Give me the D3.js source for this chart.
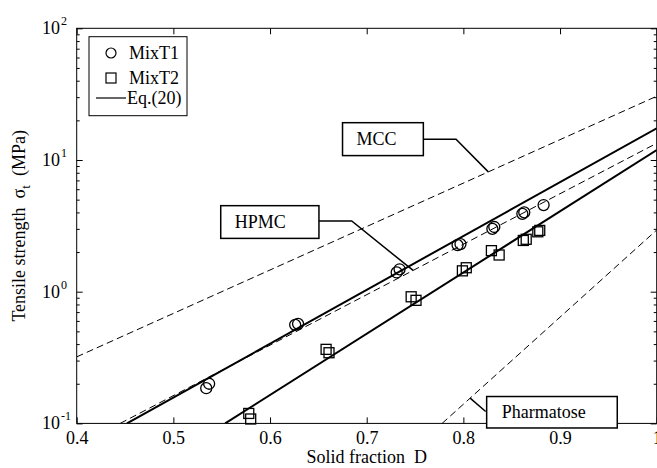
<!DOCTYPE html>
<html>
<head>
<meta charset="utf-8">
<script src="https://cdn.jsdelivr.net/npm/d3@7"></script>
<style>
  html, body { margin: 0; padding: 0; background: #fff; }
  svg { display: block; }
  svg text { font-family: "Liberation Serif", "Times New Roman", serif; }
</style>
</head>
<body>
<svg id="chart" width="657" height="468" font-family="Liberation Serif, Times New Roman, serif"></svg>
<script>
// Measured tensile strength (MPa) against solid fraction for the two mixtures
const mixT1D     = [0.534, 0.537, 0.626, 0.629, 0.731, 0.734, 0.794, 0.797, 0.830, 0.832, 0.861, 0.863, 0.883];
const mixT1Sigma = [0.185, 0.200, 0.560, 0.570, 1.40, 1.48, 2.26, 2.30, 3.00, 3.10, 3.90, 4.00, 4.55];

const mixT2D     = [0.578, 0.580, 0.658, 0.661, 0.746, 0.751, 0.799, 0.803, 0.829, 0.837, 0.862, 0.865, 0.877, 0.879];
const mixT2Sigma = [0.119, 0.108, 0.365, 0.344, 0.915, 0.860, 1.44, 1.52, 2.05, 1.90, 2.45, 2.50, 2.85, 2.92];

// Eq.(20) predictions for the mixtures (straight on the log scale): [D, sigma] end points
const eq20T1 = [[0.452, 0.1], [1.0, 17.4]];
const eq20T2 = [[0.5536, 0.1], [1.0, 11.9]];

// Single-component curves (dashed)
const componentNames = ["MCC", "HPMC", "Pharmatose"];
const mccCurve        = [[0.4, 0.32], [1.0, 30.5]];
const hpmcCurve       = [[0.445, 0.1], [1.0, 13.4]];
const pharmatoseCurve = [[0.778, 0.1], [1.0, 2.94]];

// Axis ticks
const xTicks = [0.4, 0.5, 0.6, 0.7, 0.8, 0.9, 1];
const xTickLabels = ["0.4", "0.5", "0.6", "0.7", "0.8", "0.9", "1"];
const yMajorTicks = [0.1, 1, 10, 100];
const yTickExponents = ["-1", "0", "1", "2"];
const legendLabels = ["MixT1", "MixT2", "Eq.(20)"];

// ---------------------------------------------------------------
const svg = d3.select("#chart");
const pLeft = 76.7, pRight = 656.7, pTop = 28.3, pBottom = 423.4;

const x = d3.scaleLinear().domain([0.4, 1.0]).range([pLeft, pRight]);
const y = d3.scaleLog().domain([0.1, 100]).range([pBottom, pTop]);

const yMinor = [];
[0.1, 1, 10].forEach(dec => { for (let k = 2; k <= 9; k++) yMinor.push(dec * k); });

svg.append("defs").append("clipPath").attr("id", "plot")
  .append("rect").attr("x", pLeft).attr("y", pTop)
  .attr("width", pRight - pLeft).attr("height", pBottom - pTop);

const lineGen = d3.line().x(d => x(d[0])).y(d => y(d[1]));

// Curves
const curves = svg.append("g").attr("clip-path", "url(#plot)");
[mccCurve, hpmcCurve, pharmatoseCurve].forEach(c => {
  curves.append("path").attr("d", lineGen(c))
    .attr("fill", "none").attr("stroke", "#000").attr("stroke-width", 1)
    .attr("stroke-dasharray", "7,4");
});
[eq20T1, eq20T2].forEach(c => {
  curves.append("path").attr("d", lineGen(c))
    .attr("fill", "none").attr("stroke", "#000").attr("stroke-width", 2);
});

// Markers
const marks = svg.append("g");
marks.selectAll("circle.t1").data(mixT1D).enter().append("circle")
  .attr("class", "t1")
  .attr("cx", d => x(d)).attr("cy", (d, i) => y(mixT1Sigma[i]))
  .attr("r", 5.5).attr("fill", "none").attr("stroke", "#000").attr("stroke-width", 1.3);

const sq = 10;
marks.selectAll("rect.t2").data(mixT2D).enter().append("rect")
  .attr("class", "t2")
  .attr("x", d => x(d) - sq / 2).attr("y", (d, i) => y(mixT2Sigma[i]) - sq / 2)
  .attr("width", sq).attr("height", sq)
  .attr("fill", "none").attr("stroke", "#000").attr("stroke-width", 1.3);

// Axes frame
svg.append("rect").attr("x", pLeft).attr("y", pTop)
  .attr("width", pRight - pLeft).attr("height", pBottom - pTop)
  .attr("fill", "none").attr("stroke", "#000").attr("stroke-width", 1);

const xAxisB = d3.axisBottom(x).tickValues(xTicks).tickSize(-6).tickPadding(8)
  .tickFormat((d, i) => xTickLabels[i]);
const gB = svg.append("g").attr("transform", `translate(0,${pBottom})`).call(xAxisB);
const xAxisT = d3.axisTop(x).tickValues(xTicks).tickSize(-6).tickFormat("");
const gT = svg.append("g").attr("transform", `translate(0,${pTop})`).call(xAxisT);

const yAxisL = d3.axisLeft(y).tickValues(yMajorTicks).tickSize(-6).tickFormat("");
const gL = svg.append("g").attr("transform", `translate(${pLeft},0)`).call(yAxisL);
const yAxisLm = d3.axisLeft(y).tickValues(yMinor).tickSize(-3).tickFormat("");
const gLm = svg.append("g").attr("transform", `translate(${pLeft},0)`).call(yAxisLm);
const yAxisR = d3.axisRight(y).tickValues(yMajorTicks).tickSize(-6).tickFormat("");
const gR = svg.append("g").attr("transform", `translate(${pRight},0)`).call(yAxisR);
const yAxisRm = d3.axisRight(y).tickValues(yMinor).tickSize(-3).tickFormat("");
const gRm = svg.append("g").attr("transform", `translate(${pRight},0)`).call(yAxisRm);

[gB, gT, gL, gLm, gR, gRm].forEach(g => {
  g.attr("font-family", null);
  g.select(".domain").remove();
  g.selectAll("line").attr("stroke", "#000").attr("stroke-width", 1);
});
gB.selectAll("text").attr("font-size", 18).attr("fill", "#000");

// Power-of-ten labels on the y axis
const yLab = svg.append("g").attr("fill", "#000");
yMajorTicks.forEach((v, i) => {
  yLab.append("text").attr("x", 60).attr("y", y(v) + 6)
    .attr("text-anchor", "end").attr("font-size", 18).text("10");
  yLab.append("text").attr("x", 61).attr("y", y(v) - 3)
    .attr("font-size", 12).text(yTickExponents[i]);
});

// Axis titles
svg.append("text").attr("x", (pLeft + 657) / 2).attr("y", 463)
  .attr("text-anchor", "middle").attr("font-size", 18)
  .attr("xml:space", "preserve").text("Solid fraction  D");

const yt = svg.append("text")
  .attr("transform", `translate(25,${(pTop + pBottom) / 2}) rotate(-90)`)
  .attr("text-anchor", "middle").attr("font-size", 18).attr("xml:space", "preserve");
yt.append("tspan").text("Tensile strength  σ");
yt.append("tspan").attr("font-size", 13).attr("dy", 5).text("t");
yt.append("tspan").attr("dy", -5).text("  (MPa)");

// Callout boxes naming the single-component curves
const callouts = [
  { name: componentNames[0], box: [0.675, 0.7586, 19.2, 10.8], elbow: [0.7924, 14.4], curve: mccCurve, at: 0.8258, textDx: 14 },
  { name: componentNames[1], box: [0.549, 0.6506, 4.5, 2.54],  elbow: [0.6845, 3.44], curve: hpmcCurve, at: 0.748, textDx: 14 },
  { name: componentNames[2], box: [0.8241, 0.9592, 0.16, 0.0923], elbow: null, curve: pharmatoseCurve, at: 0.807, textDx: 15 }
];
function onCurve(c, d) {
  const [a, b] = c;
  const t = (d - a[0]) / (b[0] - a[0]);
  return Math.pow(10, Math.log10(a[1]) + t * (Math.log10(b[1]) - Math.log10(a[1])));
}
const co = svg.append("g");
callouts.forEach(c => {
  const bx0 = x(c.box[0]), bx1 = x(c.box[1]), by0 = y(c.box[2]), by1 = y(c.box[3]);
  const end = [x(c.at), y(onCurve(c.curve, c.at))];
  let pts;
  if (c.elbow) {
    const ey = y(c.elbow[1]);
    pts = [[bx1, ey], [x(c.elbow[0]), ey], end];
  } else {
    pts = [[bx0 - 1, by0 + 15], end];
  }
  co.append("path").attr("d", d3.line()(pts))
    .attr("fill", "none").attr("stroke", "#000").attr("stroke-width", 1.5);
  co.append("rect").attr("x", bx0).attr("y", by0)
    .attr("width", bx1 - bx0).attr("height", by1 - by0)
    .attr("fill", "#fff").attr("stroke", "#000").attr("stroke-width", 1.5);
  co.append("text").attr("x", bx0 + c.textDx).attr("y", (by0 + by1) / 2 + 6)
    .attr("font-size", 18).attr("fill", "#000").text(c.name);
});

// Legend
const lg = svg.append("g");
lg.append("rect").attr("x", 89).attr("y", 36.7).attr("width", 98).attr("height", 79)
  .attr("fill", "#fff").attr("stroke", "#000").attr("stroke-width", 1);
const rows = [53, 78, 98];
lg.append("circle").attr("cx", 111).attr("cy", rows[0]).attr("r", 5)
  .attr("fill", "none").attr("stroke", "#000").attr("stroke-width", 1.2);
lg.append("rect").attr("x", 106).attr("y", rows[1] - 5).attr("width", 10).attr("height", 10)
  .attr("fill", "none").attr("stroke", "#000").attr("stroke-width", 1.2);
lg.append("line").attr("x1", 96).attr("x2", 126).attr("y1", rows[2]).attr("y2", rows[2])
  .attr("stroke", "#000").attr("stroke-width", 1.2);
legendLabels.forEach((t, i) => {
  lg.append("text").attr("x", i < 2 ? 129 : 127).attr("y", rows[i] + 6)
    .attr("font-size", 18).attr("fill", "#000").text(t);
});
</script>
</body>
</html>
